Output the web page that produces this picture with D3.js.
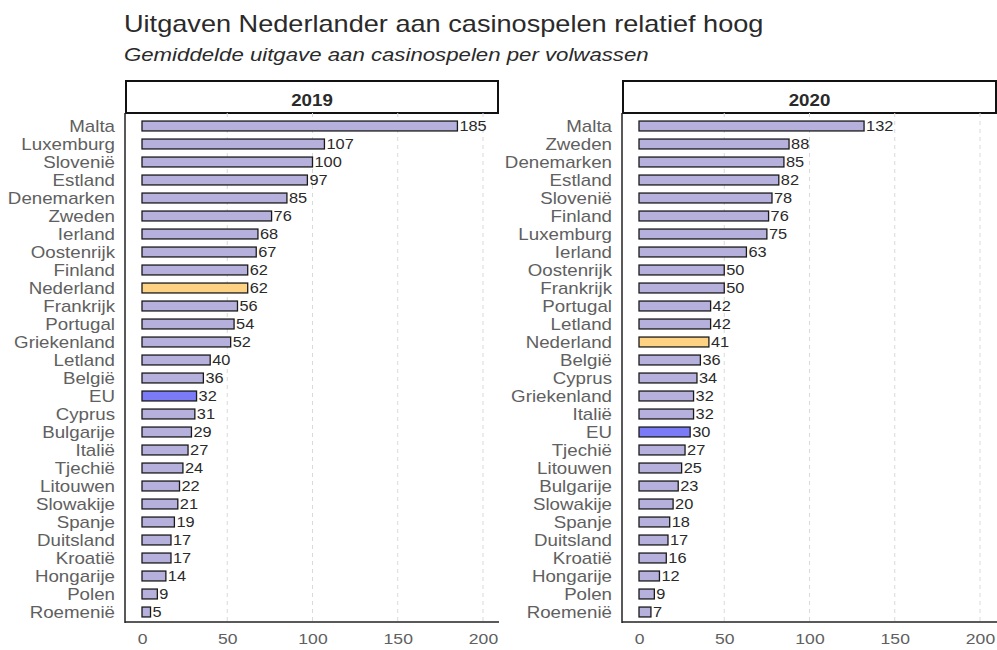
<!DOCTYPE html>
<html><head><meta charset="utf-8">
<script src="https://cdn.jsdelivr.net/npm/d3@7"></script>
<style>body{margin:0;background:#fff}svg{display:block;font-family:"Liberation Sans",Arial,sans-serif}</style>
</head><body><svg id="c" width="997" height="650"></svg>
<script>
const title = "Uitgaven Nederlander aan casinospelen relatief hoog";
const subtitle = "Gemiddelde uitgave aan casinospelen per volwassen";
const years = ["2019", "2020"];
const countries2019 = ["Malta","Luxemburg","Slovenië","Estland","Denemarken","Zweden","Ierland","Oostenrijk","Finland","Nederland","Frankrijk","Portugal","Griekenland","Letland","België","EU","Cyprus","Bulgarije","Italië","Tjechië","Litouwen","Slowakije","Spanje","Duitsland","Kroatië","Hongarije","Polen","Roemenië"];
const values2019 = [185,107,100,97,85,76,68,67,62,62,56,54,52,40,36,32,31,29,27,24,22,21,19,17,17,14,9,5];
const countries2020 = ["Malta","Zweden","Denemarken","Estland","Slovenië","Finland","Luxemburg","Ierland","Oostenrijk","Frankrijk","Portugal","Letland","Nederland","België","Cyprus","Griekenland","Italië","EU","Tjechië","Litouwen","Bulgarije","Slowakije","Spanje","Duitsland","Kroatië","Hongarije","Polen","Roemenië"];
const values2020 = [132,88,85,82,78,76,75,63,50,50,42,42,41,36,34,32,32,30,27,25,23,20,18,17,16,12,9,7];
const xTicks = [0,50,100,150,200];

const S = 1.17; // horizontal text stretch seen in the reference
const svg = d3.select("#c");
svg.append("text").attr("x",124).attr("y",32).attr("font-size",23.2).attr("fill","#2a2a2a").text(title);
svg.append("text").attr("x",124).attr("y",61).attr("font-size",19).attr("font-style","italic").attr("fill","#2a2a2a").text(subtitle);

const panels = [
  {year: years[0], cats: countries2019, vals: values2019, left: 125, right: 499, x0: 142},
  {year: years[1], cats: countries2020, vals: values2020, left: 622, right: 997, x0: 639}
];
const plotTop = 113, plotBottom = 622, stripTop = 81;

function fillFor(c){ return c === "Nederland" ? "#fdd383" : c === "EU" ? "#7b7bf7" : "#b6b0dc"; }

panels.forEach(p => {
  const g = svg.append("g");
  const x = d3.scaleLinear().domain([0,200]).range([p.x0, p.x0 + 341]);
  const y = d3.scaleBand().domain(p.cats).range([117, 621]).paddingInner(0.45).paddingOuter(0.225);
  g.append("rect").attr("x",p.left+1).attr("y",stripTop).attr("width",p.right-p.left-2).attr("height",plotTop-stripTop)
    .attr("fill","#fff").attr("stroke","#111").attr("stroke-width",2);
  g.append("text").attr("x",(p.left+p.right)/2).attr("y",plotTop-7).attr("text-anchor","middle")
    .attr("font-size",16).attr("font-weight","bold").attr("fill","#2a2a2a").text(p.year);
  g.selectAll(".grid").data(xTicks.filter(t=>t>0)).join("line")
    .attr("x1",d=>x(d)).attr("x2",d=>x(d)).attr("y1",plotTop).attr("y2",plotBottom)
    .attr("stroke","#d9d9d9").attr("stroke-width",1).attr("stroke-dasharray","4,4");
  const data = p.cats.map((c,i)=>({c, v:p.vals[i]}));
  g.selectAll(".bar").data(data).join("rect")
    .attr("x",x(0)).attr("y",d=>y(d.c)).attr("width",d=>x(d.v)-x(0)).attr("height",y.bandwidth())
    .attr("fill",d=>fillFor(d.c)).attr("stroke","#1a1a1a").attr("stroke-width",1.3);
  g.selectAll(".val").data(data).join("text")
    .attr("x",d=>x(d.v)+2).attr("y",d=>y(d.c)+y.bandwidth()/2).attr("dy","0.36em")
    .attr("font-size",14).attr("fill","#2a2a2a").text(d=>d.v);
  const ya = g.append("g").attr("transform",`translate(${p.left},0)`)
    .call(d3.axisLeft(y).tickSize(0).tickPadding(10));
  ya.select(".domain").remove();
  ya.selectAll("text").attr("font-size",16).attr("fill","#606060").attr("dy","0.36em").attr("font-family","Liberation Sans, Arial, sans-serif");
  const xa = g.append("g").attr("transform",`translate(0,${plotBottom})`)
    .call(d3.axisBottom(x).tickValues(xTicks).tickSize(0).tickPadding(10));
  xa.select(".domain").remove();
  xa.selectAll("text").attr("font-size",15).attr("fill","#606060").attr("y",11).attr("font-family","Liberation Sans, Arial, sans-serif");
  g.append("line").attr("x1",p.left).attr("x2",p.left).attr("y1",plotTop).attr("y2",plotBottom+1).attr("stroke","#222").attr("stroke-width",1.5);
  g.append("line").attr("x1",p.left).attr("x2",p.right).attr("y1",plotBottom).attr("y2",plotBottom).attr("stroke","#222").attr("stroke-width",1.5);
});

// apply horizontal stretch to all texts around their anchor point
svg.selectAll("text").each(function(){
  const t = d3.select(this);
  const tx = +t.attr("x") || 0, ty = +t.attr("y") || 0;
  t.attr("x",0).attr("y",0).attr("transform",`translate(${tx},${ty}) scale(${S},1)`);
});
</script></body></html>
